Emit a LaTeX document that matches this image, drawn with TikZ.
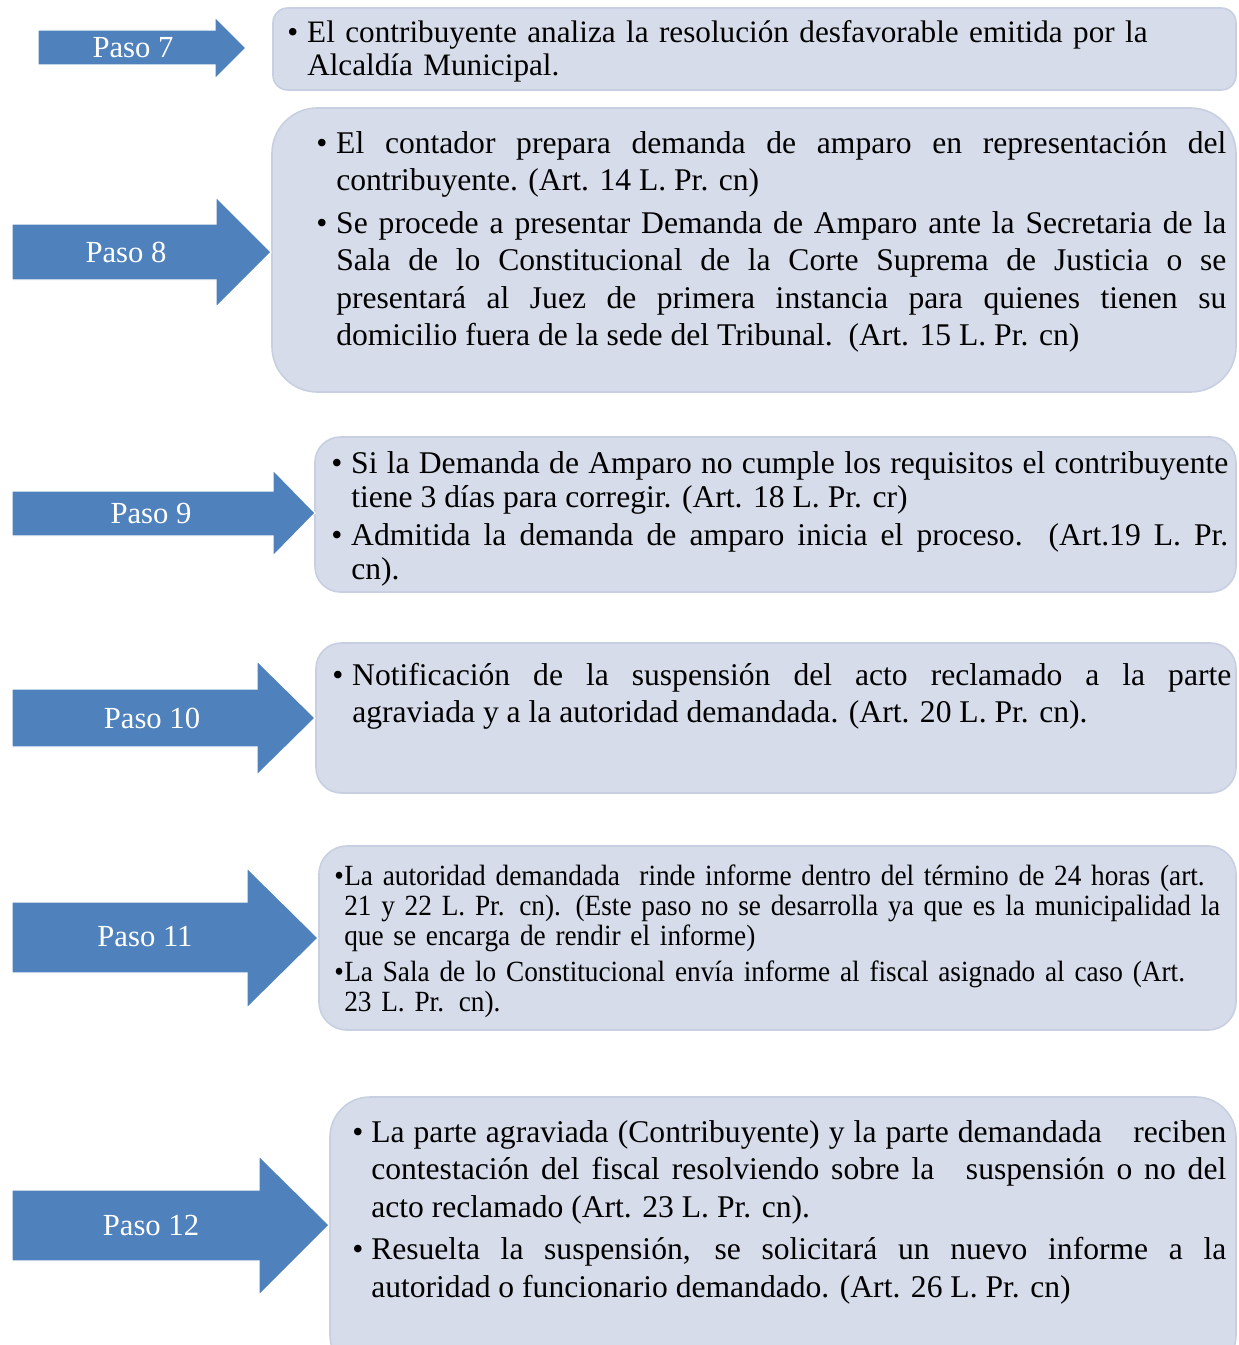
\documentclass[tikz,border=0pt]{standalone}
\usepackage{fontspec}
\setmainfont{Liberation Serif}
\newfontfamily\condfont{Liberation Serif}[FakeStretch=0.93]
\definecolor{boxfill}{RGB}{214,220,233}
\definecolor{boxline}{RGB}{199,207,225}
\definecolor{arrowblue}{RGB}{79,129,189}
\newcommand\bitem[2]{\par\noindent\hangindent=#1\hangafter=1\makebox[#1][l]{\textbullet}\ignorespaces#2\par}
\tikzset{
  stepbox/.style={draw=boxline, fill=boxfill, line width=1.2pt},
  bigarrow/.style={fill=arrowblue, draw=white, line width=0.8pt},
  pasolabel/.style={text=white, font=\fontsize{23}{26}\selectfont, inner sep=0pt},
  bodytext/.style={anchor=north west, inner sep=0pt, align=justify}
}
\begin{document}
\begin{tikzpicture}[x=0.75pt,y=-0.75pt]
\useasboundingbox (0,0) rectangle (1238,1345);
\clip (0,0) rectangle (1238,1345);
% boxes
\draw[stepbox, rounded corners=11pt] (273,8) rectangle (1236,90);
\draw[stepbox, rounded corners=34pt] (272,108) rectangle (1236,392);
\draw[stepbox, rounded corners=19pt] (315,437) rectangle (1236,592);
\draw[stepbox, rounded corners=19pt] (316,643) rectangle (1236,793);
\draw[stepbox, rounded corners=21pt] (319,846) rectangle (1236,1030);
\draw[stepbox, rounded corners=30pt] (330,1097) rectangle (1236,1375);
% arrows
\draw[bigarrow] (38,30) -- (215,30) -- (215,17) -- (246,48) -- (215,79) -- (215,65) -- (38,65) -- cycle;
\draw[bigarrow] (12,224) -- (216,224) -- (216,197) -- (271,252) -- (216,307) -- (216,280) -- (12,280) -- cycle;
\draw[bigarrow] (12,491) -- (273,491) -- (273,470) -- (315,513) -- (273,556) -- (273,536) -- (12,536) -- cycle;
\draw[bigarrow] (12,689) -- (257,689) -- (257,661) -- (315,718) -- (257,775) -- (257,747) -- (12,747) -- cycle;
\draw[bigarrow] (12,902) -- (247,902) -- (247,868) -- (318,938) -- (247,1008) -- (247,973) -- (12,973) -- cycle;
\draw[bigarrow] (12,1190) -- (259,1190) -- (259,1156) -- (329,1225) -- (259,1295) -- (259,1261) -- (12,1261) -- cycle;
% labels
\node[pasolabel] (p7) at (133,48) {Paso 7};
\node[pasolabel] (p8) at (126,252) {Paso 8};
\node[pasolabel] (p9) at (151,513) {Paso 9};
\node[pasolabel] (p10) at (152,718) {Paso 10};
\node[pasolabel] (p11) at (145,937) {Paso 11};
\node[pasolabel] (p12) at (151,1225) {Paso 12};
% texts
\node[bodytext, align=left, text width=712pt, font=\fontsize{23.4}{24.75}\selectfont] (t7) at (287,9)
 {\bitem{15pt}{El contribuyente analiza la resolución desfavorable emitida por la\newline Alcaldía Municipal.}};
\node[bodytext, text width=682.5pt, font=\fontsize{23.7}{28}\selectfont] (t8) at (316,116)
 {\bitem{15pt}{El contador prepara demanda de amparo en representación del\linebreak contribuyente. (Art. 14 L. Pr. cn)}\vspace{4pt}
  \bitem{15pt}{Se procede a presentar Demanda de Amparo ante la Secretaria de la\linebreak Sala de lo Constitucional de la Corte Suprema de Justicia o se\linebreak presentará al Juez de primera instancia para quienes tienen su\linebreak domicilio fuera de la sede del Tribunal.\ \ (Art. 15 L. Pr. cn)}};
\node[bodytext, text width=672.75pt, font=\fontsize{23.7}{25.5}\selectfont] (t9) at (331,439)
 {\bitem{15pt}{Si la Demanda de Amparo no cumple los requisitos el contribuyente\linebreak tiene 3 días para corregir. (Art. 18 L. Pr. cr)}\vspace{3pt}
  \bitem{15pt}{Admitida la demanda de amparo inicia el proceso. (Art.19 L. Pr.\linebreak cn).}};
\node[bodytext, text width=674.25pt, font=\fontsize{23.7}{27.75}\selectfont] (t10) at (332,648)
 {\bitem{15pt}{Notificación de la suspensión del acto reclamado a la parte\linebreak agraviada y a la autoridad demandada. (Art. 20 L. Pr. cn).}};
\node[bodytext, align=left, text width=680pt, font=\condfont\fontsize{22}{22.5}\selectfont] (t11) at (334,855)
 {\hyphenpenalty=10000\exhyphenpenalty=10000
  \bitem{7.5pt}{La autoridad demandada\ \ rinde informe dentro del término de 24 horas (art.\newline 21 y 22 L. Pr. cn). (Este paso no se desarrolla ya que es la municipalidad la\newline que se encarga de rendir el informe)}\vspace{4.5pt}
  \bitem{7.5pt}{La Sala de lo Constitucional envía informe al fiscal asignado al caso (Art.\newline 23 L. Pr. cn).}};
\node[bodytext, text width=655.5pt, font=\fontsize{23.7}{28}\selectfont] (t12) at (352,1105)
 {\bitem{14.25pt}{La parte agraviada (Contribuyente) y la parte demandada\quad reciben\linebreak contestación del fiscal resolviendo sobre la\quad suspensión o no del\linebreak acto reclamado (Art. 23 L. Pr. cn).}\vspace{4pt}
  \bitem{14.25pt}{Resuelta la suspensión, se solicitará un nuevo informe a la\linebreak autoridad o funcionario demandado. (Art. 26 L. Pr. cn)}};
\end{tikzpicture}
\end{document}
